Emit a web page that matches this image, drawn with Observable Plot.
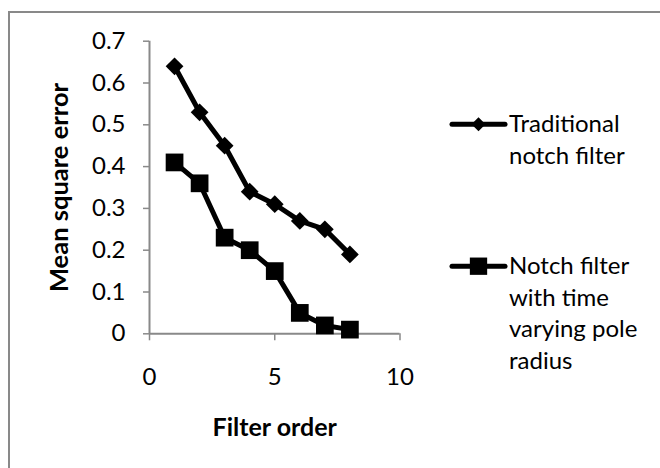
<!DOCTYPE html>
<html><head><meta charset="utf-8">
<script src="https://cdn.jsdelivr.net/npm/d3@7"></script>
<script src="https://cdn.jsdelivr.net/npm/@observablehq/plot@0.6"></script>
<style>
html,body{margin:0;padding:0;background:#fff;overflow:hidden;}
#wrap{position:relative;width:660px;height:468px;overflow:hidden;}
#border{position:absolute;left:8px;top:11px;width:720px;height:520px;border:2px solid #898989;box-sizing:border-box;pointer-events:none;}
#chart{position:absolute;left:0;top:0;}
</style></head><body>
<div id="wrap"><div id="border"></div><div id="chart"></div></div>
<script>
const filterOrder = [1, 2, 3, 4, 5, 6, 7, 8];
const traditional = [0.64, 0.53, 0.45, 0.34, 0.31, 0.27, 0.25, 0.19];
const timeVarying = [0.41, 0.36, 0.23, 0.20, 0.15, 0.05, 0.02, 0.01];
const seriesNames = ["Traditional notch filter", "Notch filter with time varying pole radius"];
const legendLines = [["Traditional", "notch filter"], ["Notch filter", "with time", "varying pole", "radius"]];
const xTicks = [0, 5, 10];
const yTicks = [0, 0.1, 0.2, 0.3, 0.4, 0.5, 0.6, 0.7];
const xTitle = "Filter order";
const yTitle = "Mean square error";

const rows = [];
filterOrder.forEach((x, i) => {
  rows.push({x, y: traditional[i], series: seriesNames[0]});
  rows.push({x, y: timeVarying[i], series: seriesNames[1]});
});
const tradRows = rows.filter(d => d.series === seriesNames[0]);
const tvRows = rows.filter(d => d.series === seriesNames[1]);

const axisGray = "#898989";
const FONT = "Lato, 'Open Sans', sans-serif";

const chart = Plot.plot({
  width: 660, height: 468,
  marginLeft: 149, marginRight: 260.5, marginTop: 40.7, marginBottom: 134.7,
  style: {fontFamily: FONT, fontSize: "24px", color: "#000", background: "transparent", overflow: "visible"},
  x: {domain: [0, 10]},
  y: {domain: [0, 0.7]},
  marks: [
    Plot.axisY({ticks: yTicks, tickSize: 6, tickPadding: 18, stroke: axisGray, strokeWidth: 1.5, fill: "#000",
      tickFormat: d => d === 0 ? "0" : d.toFixed(1), label: null}),
    Plot.axisX({ticks: xTicks, tickSize: 7, tickPadding: 27, stroke: axisGray, strokeWidth: 1.5, fill: "#000",
      tickFormat: d => String(d), label: null}),
    Plot.ruleX([0], {stroke: axisGray, strokeWidth: 2}),
    Plot.ruleY([0], {stroke: axisGray, strokeWidth: 2}),
    Plot.text([xTitle], {frameAnchor: "bottom", dy: 84, lineAnchor: "top", fontWeight: "bold", fontSize: 25, fill: "#000"}),
    Plot.text([yTitle], {frameAnchor: "left", rotate: -90, dx: -100, lineAnchor: "top", textAnchor: "middle", fontWeight: "bold", fontSize: 25.5, fill: "#000"}),
    Plot.line(rows, {x: "x", y: "y", z: "series", stroke: "#000", strokeWidth: 5, strokeLinejoin: "round", strokeLinecap: "round"}),
    Plot.dot(tradRows, {x: "x", y: "y", symbol: "diamond2", r: 8, fill: "#000", stroke: "none"}),
    Plot.dot(tvRows, {x: "x", y: "y", symbol: "square", r: 10, fill: "#000", stroke: "none"})
  ]
});
document.getElementById("chart").appendChild(chart);

// Legend (to the right of the plot area)
const svg = d3.select(chart);
const lg = svg.append("g").attr("font-family", FONT).attr("font-size", 24).attr("fill", "#000").attr("text-anchor", "start");
const legendItems = [
  {lineY: 124.3, symbol: d3.symbolDiamond2, size: 125, lines: legendLines[0]},
  {lineY: 266.2, symbol: d3.symbolSquare, size: 300, lines: legendLines[1]}
];
const lineH = 31.7;
legendItems.forEach(it => {
  lg.append("line").attr("x1", 452).attr("x2", 505).attr("y1", it.lineY).attr("y2", it.lineY)
    .attr("stroke", "#000").attr("stroke-width", 5).attr("stroke-linecap", "round");
  lg.append("path").attr("d", d3.symbol(it.symbol, it.size)()).attr("transform", `translate(478.5,${it.lineY})`).attr("fill", "#000");
  const t = lg.append("text").attr("x", 509).attr("y", it.lineY + 7.8).attr("text-anchor", "start");
  it.lines.forEach((s, j) => t.append("tspan").attr("x", 509).attr("dy", j === 0 ? 0 : lineH).text(s));
});
</script>
</body></html>
